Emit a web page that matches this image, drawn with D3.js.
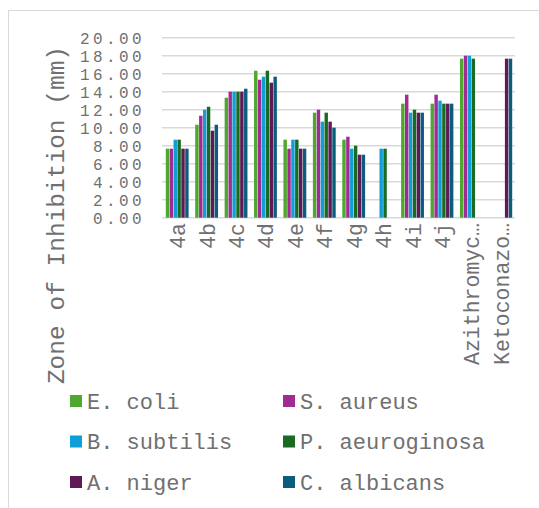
<!DOCTYPE html>
<html>
<head>
<meta charset="utf-8">
<script src="https://cdn.jsdelivr.net/npm/d3@7"></script>
<style>
  html, body { margin: 0; padding: 0; background: #fff; }
  svg text { font-family: "Liberation Mono", "Courier New", monospace; fill: #707070; }
</style>
</head>
<body>
<div id="chart"></div>
<script>
// categories (compounds) and series (organisms)
var categories = ['4a', '4b', '4c', '4d', '4e', '4f', '4g', '4h', '4i', '4j', 'Azithromycin', 'Ketoconazole'];
var seriesNames = ['E. coli', 'S. aureus', 'B. subtilis', 'P. aeuroginosa', 'A. niger', 'C. albicans'];
var seriesColors = ['#4ea72e', '#a02b93', '#0f9ed5', '#196b24', '#5e1a56', '#0c5d7c'];

// zone of inhibition in mm, one array per organism (0 = not tested)
var eColi        = [7.67, 10.33, 13.33, 16.33, 8.67, 11.67, 8.67, 0,    12.67, 12.67, 17.67, 0];
var sAureus      = [7.67, 11.33, 14.00, 15.33, 7.67, 12.00, 9.00, 0,    13.67, 13.67, 18.00, 0];
var bSubtilis    = [8.67, 12.00, 14.00, 15.67, 8.67, 10.67, 7.67, 7.67, 11.67, 13.00, 18.00, 0];
var pAeuroginosa = [8.67, 12.33, 14.00, 16.33, 8.67, 11.67, 8.00, 7.67, 12.00, 12.67, 17.67, 0];
var aNiger       = [7.67, 9.67,  14.00, 15.00, 7.67, 10.67, 7.00, 0,    11.67, 12.67, 0,     17.67];
var cAlbicans    = [7.67, 10.33, 14.33, 15.67, 7.67, 10.00, 7.00, 0,    11.67, 12.67, 0,     17.67];

var seriesValues = [eColi, sAureus, bSubtilis, pAeuroginosa, aNiger, cAlbicans];
var yTicks = [0, 2, 4, 6, 8, 10, 12, 14, 16, 18, 20];

var W = 539, H = 508;
var plot = {left: 162, right: 515, top: 37.7, bottom: 217.7};

var svg = d3.select('#chart').append('svg')
    .attr('width', W)
    .attr('height', H);

// chart area border (left and top edges visible)
svg.append('rect')
    .attr('x', 8.5).attr('y', 10.5)
    .attr('width', W + 10).attr('height', H + 10)
    .attr('fill', 'none')
    .attr('stroke', '#d9d9d9');

var x = d3.scaleBand().domain(categories).range([plot.left, plot.right]).padding(0);
var xs = d3.scaleBand().domain(d3.range(seriesNames.length))
    .range([3.8, x.bandwidth() - 2.8]).paddingInner(0.12);
var y = d3.scaleLinear().domain([0, 20]).range([plot.bottom, plot.top]);

// gridlines
svg.append('g').selectAll('line')
    .data(yTicks).enter().append('line')
    .attr('x1', plot.left).attr('x2', plot.right)
    .attr('y1', function(d) { return y(d); })
    .attr('y2', function(d) { return y(d); })
    .attr('stroke', '#d9d9d9')
    .attr('stroke-width', 1.5);

// y axis labels (tightly packed, like the original)
var yAxis = d3.axisLeft(y).tickValues(yTicks).tickFormat(d3.format('.2f')).tickSize(0).tickPadding(0);
var gy = svg.append('g').attr('transform', 'translate(145,0)').call(yAxis);
gy.attr('font-family', null);
gy.select('.domain').remove();
gy.selectAll('text')
    .attr('font-size', 16)
    .attr('letter-spacing', 3.4)
    .attr('fill', null)
    .attr('dy', '0.35em');

// bars
var groups = svg.append('g').selectAll('g')
    .data(categories).enter().append('g')
    .attr('transform', function(d) { return 'translate(' + x(d) + ',0)'; });

groups.selectAll('rect')
    .data(function(c, ci) {
        return seriesValues.map(function(vals, si) { return {s: si, v: vals[ci]}; });
    })
    .enter().append('rect')
    .filter(function(d) { return d.v > 0; })
    .attr('x', function(d) { return xs(d.s); })
    .attr('width', xs.bandwidth())
    .attr('y', function(d) { return y(d.v); })
    .attr('height', function(d) { return y(0) - y(d.v); })
    .attr('fill', function(d) { return seriesColors[d.s]; });

// x axis labels, rotated
var xAxis = d3.axisBottom(x).tickSize(0).tickPadding(0)
    .tickFormat(function(d) { return d.length > 10 ? d.slice(0, 10) + '\u2026' : d; });
var gx = svg.append('g').attr('transform', 'translate(0,223)').call(xAxis);
gx.attr('font-family', null);
gx.select('.domain').remove();
gx.selectAll('text')
    .attr('font-size', 21.5)
    .attr('fill', null)
    .attr('text-anchor', 'end')
    .attr('transform', 'rotate(-90)')
    .attr('x', 0)
    .attr('y', 1)
    .attr('dy', '0.35em');

// y axis title
svg.append('text')
    .attr('transform', 'translate(55,215) rotate(-90)')
    .attr('text-anchor', 'middle')
    .attr('dy', '0.35em')
    .attr('font-size', 24.5)
    .text('Zone of Inhibition (mm)');

// legend
var legend = svg.append('g').selectAll('g')
    .data(seriesNames).enter().append('g')
    .attr('transform', function(d, i) {
        return 'translate(' + (i % 2 === 0 ? 70 : 283) + ',' + (401 + Math.floor(i / 2) * 40.5) + ')';
    });
legend.append('rect')
    .attr('x', 0).attr('y', -6)
    .attr('width', 12).attr('height', 12)
    .attr('fill', function(d, i) { return seriesColors[i]; });
legend.append('text')
    .attr('x', 17)
    .attr('dy', '0.35em')
    .attr('font-size', 22)
    .text(function(d) { return d; });
</script>
</body>
</html>
